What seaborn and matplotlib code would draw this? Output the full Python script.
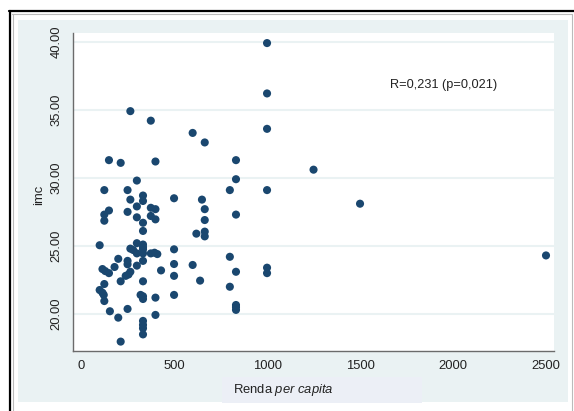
import matplotlib
matplotlib.use("Agg")
import matplotlib.pyplot as plt
from matplotlib.patches import Rectangle
from matplotlib.lines import Line2D
import seaborn as sns
import pandas as pd

# data (renda per capita, imc)
renda = [1000, 1000, 1000, 1000, 1000, 1000, 1250, 1500, 2500,
         265, 375, 600, 665, 150, 213, 400, 833, 833, 300, 125,
         250, 800, 333, 265, 333, 500, 650, 150, 300, 375,
         400, 665, 125, 250, 125, 300, 375, 400, 333, 665,
         833, 333, 620, 665, 665, 100, 300, 333, 265, 333,
         500, 300, 333, 375, 395, 410, 800, 200, 250, 250,
         333, 500, 600, 300, 180, 115, 130, 150, 265, 255,
         240, 430, 500, 833, 800, 213, 333, 640, 125, 100,
         115, 122, 125, 320, 333, 333, 400, 500, 833, 833,
         833, 155, 250, 400, 200, 333, 333, 333, 333, 213,
         280, 333]
imc = [39.9, 36.2, 33.6, 29.1, 23.4, 23.0, 30.6, 28.1, 24.3,
       34.9, 34.2, 33.3, 32.6, 31.3, 31.1, 31.2, 31.3, 29.9, 29.8, 29.1,
       29.1, 29.1, 28.7, 28.4, 28.3, 28.5, 28.4, 27.6, 27.9, 27.8,
       27.7, 27.7, 27.3, 27.5, 26.85, 27.1, 27.2, 26.95, 26.7, 26.9,
       27.3, 26.1, 25.9, 26.05, 25.7, 25.05, 25.2, 25.1, 24.8, 24.75,
       24.75, 24.45, 24.45, 24.45, 24.5, 24.4, 24.2, 24.05, 23.9, 23.65,
       23.9, 23.67, 23.6, 23.55, 23.45, 23.3, 23.15, 23.0, 23.1, 22.9,
       22.8, 23.2, 22.8, 23.1, 22.0, 22.4, 22.4, 22.45, 22.2, 21.76,
       21.56, 21.4, 20.95, 21.4, 21.3, 21.1, 21.2, 21.4, 20.66, 20.5,
       20.3, 20.2, 20.37, 19.93, 19.73, 19.49, 19.2, 18.95, 18.5, 17.97,
       24.7, 24.9]

y_ticks = [20, 25, 30, 35, 40]
x_ticks = [0, 500, 1000, 1500, 2000, 2500]
note = "R=0,231 (p=0,021)"

df = pd.DataFrame({"renda": renda, "imc": imc})

sns.set_style("white")
plt.rcParams["font.family"] = ["Liberation Sans", "DejaVu Sans"]
plt.rcParams["mathtext.fontset"] = "custom"
plt.rcParams["mathtext.rm"] = "Liberation Sans"
plt.rcParams["mathtext.it"] = "Liberation Sans:italic"

W, H = 574, 411
fig = plt.figure(figsize=(W / 100, H / 100), dpi=100)
fig.patch.set_facecolor("white")

def fx(px):
    return px / W

def fy(py):
    return 1 - py / H

# stata-like outer panel and frame
fig.patches.append(Rectangle((fx(18), fy(402)), fx(568) - fx(18), fy(20) - fy(402),
                             transform=fig.transFigure, facecolor="#EAF2F3",
                             edgecolor="none", zorder=-10))
fig.patches.append(Rectangle((fx(222), fy(403)), fx(422) - fx(222), fy(377) - fy(403),
                             transform=fig.transFigure, facecolor="#ECEFF6",
                             edgecolor="none", zorder=-9))
fig.lines.append(Line2D([fx(9), fx(574)], [fy(11.5), fy(11.5)], transform=fig.transFigure,
                        color="black", lw=1.6))
fig.lines.append(Line2D([fx(10), fx(10)], [fy(11), fy(411)], transform=fig.transFigure,
                        color="black", lw=1.6))
fig.lines.append(Line2D([fx(12), fx(572)], [fy(14.5), fy(14.5)], transform=fig.transFigure,
                        color="#bbbbbb", lw=0.8))
fig.lines.append(Line2D([fx(572), fx(572)], [fy(14.5), fy(411)], transform=fig.transFigure,
                        color="#bbbbbb", lw=0.8))
fig.lines.append(Line2D([fx(12.5), fx(12.5)], [fy(14.5), fy(411)], transform=fig.transFigure,
                        color="#bbbbbb", lw=0.8))

ax = fig.add_axes([fx(72.7), fy(351), fx(554) - fx(72.7), fy(33) - fy(351)])
ax.set_zorder(1)
ax.set_facecolor("white")

sns.scatterplot(data=df, x="renda", y="imc", ax=ax, color="#1A476F", s=34,
                edgecolor="none", linewidth=0, zorder=3)

ax.set_xlim(-45, 2543)
ax.set_ylim(17.28, 40.64)
ax.set_xticks(x_ticks)
ax.set_yticks(y_ticks)
ax.set_yticklabels([f"{v:.2f}" for v in y_ticks])
ax.grid(axis="y", color="#EAF2F3", lw=1.5)
ax.grid(axis="x", visible=False)
ax.set_axisbelow(True)

for s in ["top", "right"]:
    ax.spines[s].set_visible(False)
for s in ["left", "bottom"]:
    ax.spines[s].set_color("#6b6b6b")
    ax.spines[s].set_linewidth(1.0)

ax.tick_params(axis="both", direction="out", length=3.8, width=0.9, color="#6b6b6b",
               labelsize=9.4, labelcolor="#222222")
ax.tick_params(axis="x", pad=2.5)
ax.tick_params(axis="y", pad=3.5, labelrotation=90)
for lab in ax.get_yticklabels():
    lab.set_verticalalignment("center")

ax.set_xlabel(r"Renda $\mathit{per\ capita}$", fontsize=9.4, color="#222222")
ax.set_ylabel("imc", fontsize=9.4, color="#222222")
ax.xaxis.set_label_coords((283 - 72.7) / 481.3, -(390 - 351) / 318)
ax.xaxis.label.set_verticalalignment("center")
ax.yaxis.set_label_coords((39 - 72.7) / 481.3, (351 - 195) / 318)
ax.yaxis.label.set_verticalalignment("center")

ax.text(1661, 36.82, note, ha="left", va="center", fontsize=9.2, color="#222222")

fig.savefig("out.png", dpi=100)
